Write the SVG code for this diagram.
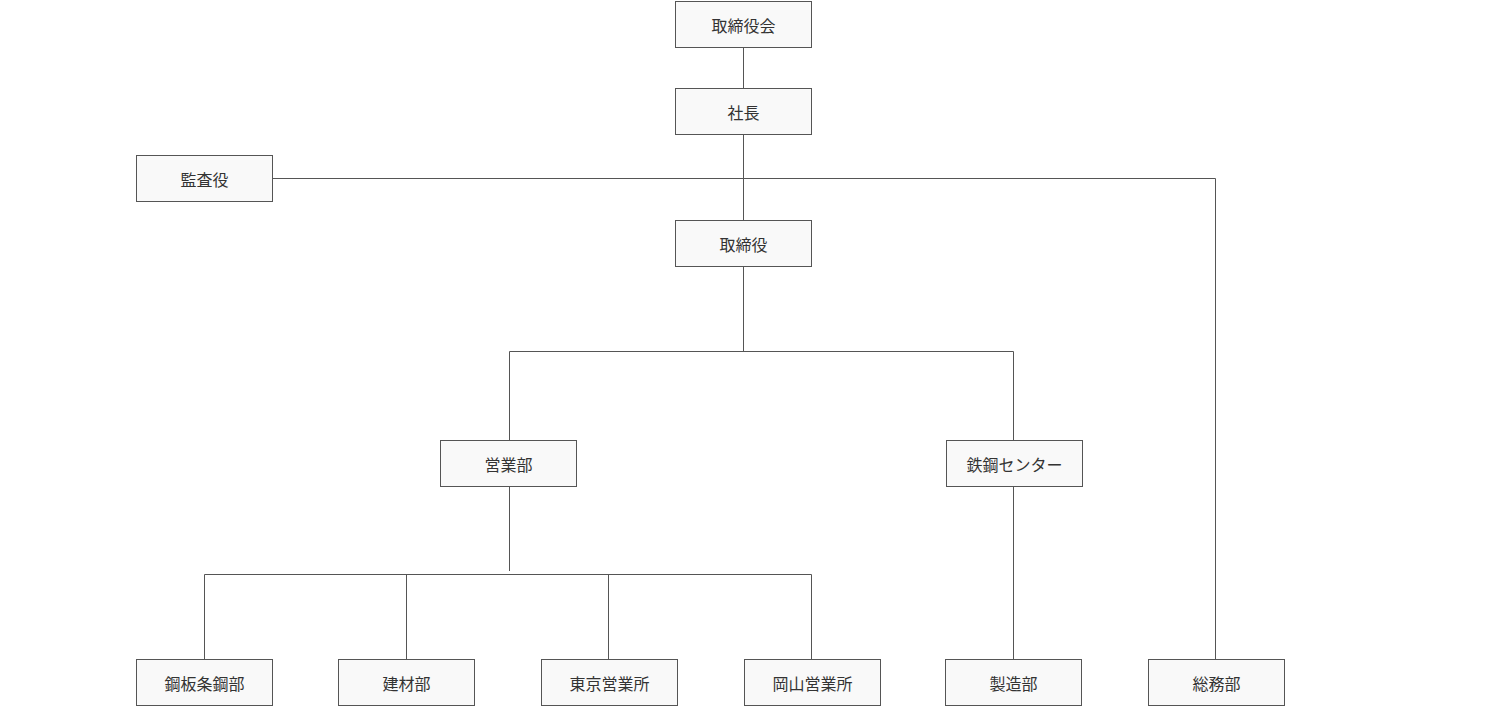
<svg xmlns="http://www.w3.org/2000/svg" width="1488" height="706" viewBox="0 0 1488 706">
<style>
.n rect{fill:#f9f9f9;stroke:#555;stroke-width:1}
.n text{font-family:"Noto Sans CJK JP","Noto Sans",sans-serif;font-size:16px;fill:#333;text-anchor:middle;dominant-baseline:central}
#c path{fill:none;stroke:#555;stroke-width:1}
</style>
<rect width="1488" height="706" fill="#fff"/>
<g id="c">
<path d="M743.5 47V88M743.5 134V220M272 178.5H1215.5V659M743.5 266V351.5M509.5 440V351.5H1013.5V440M509.5 486V571M204.5 659V574.5H811.5V659M406.5 574.5V659M608.5 574.5V659M1013.5 486V659"/>
</g>
<g id="n1" class="n"><rect x="675.5" y="1.5" width="136" height="46"/><text x="743.5" y="24.5">取締役会</text></g>
<g id="n2" class="n"><rect x="675.5" y="88.5" width="136" height="46"/><text x="743.5" y="111.5">社長</text></g>
<g id="n3" class="n"><rect x="136.5" y="155.5" width="136" height="46"/><text x="204.5" y="178.5">監査役</text></g>
<g id="n4" class="n"><rect x="675.5" y="220.5" width="136" height="46"/><text x="743.5" y="243.5">取締役</text></g>
<g id="n5" class="n"><rect x="440.5" y="440.5" width="136" height="46"/><text x="508.5" y="463.5">営業部</text></g>
<g id="n6" class="n"><rect x="946.5" y="440.5" width="136" height="46"/><text x="1014.5" y="463.5">鉄鋼センター</text></g>
<g id="n7" class="n"><rect x="136.5" y="659.5" width="136" height="46"/><text x="204.5" y="682.5">鋼板条鋼部</text></g>
<g id="n8" class="n"><rect x="338.5" y="659.5" width="136" height="46"/><text x="406.5" y="682.5">建材部</text></g>
<g id="n9" class="n"><rect x="541.5" y="659.5" width="136" height="46"/><text x="609.5" y="682.5">東京営業所</text></g>
<g id="n10" class="n"><rect x="744.5" y="659.5" width="136" height="46"/><text x="812.5" y="682.5">岡山営業所</text></g>
<g id="n11" class="n"><rect x="945.5" y="659.5" width="136" height="46"/><text x="1013.5" y="682.5">製造部</text></g>
<g id="n12" class="n"><rect x="1148.5" y="659.5" width="136" height="46"/><text x="1216.5" y="682.5">総務部</text></g>
</svg>
